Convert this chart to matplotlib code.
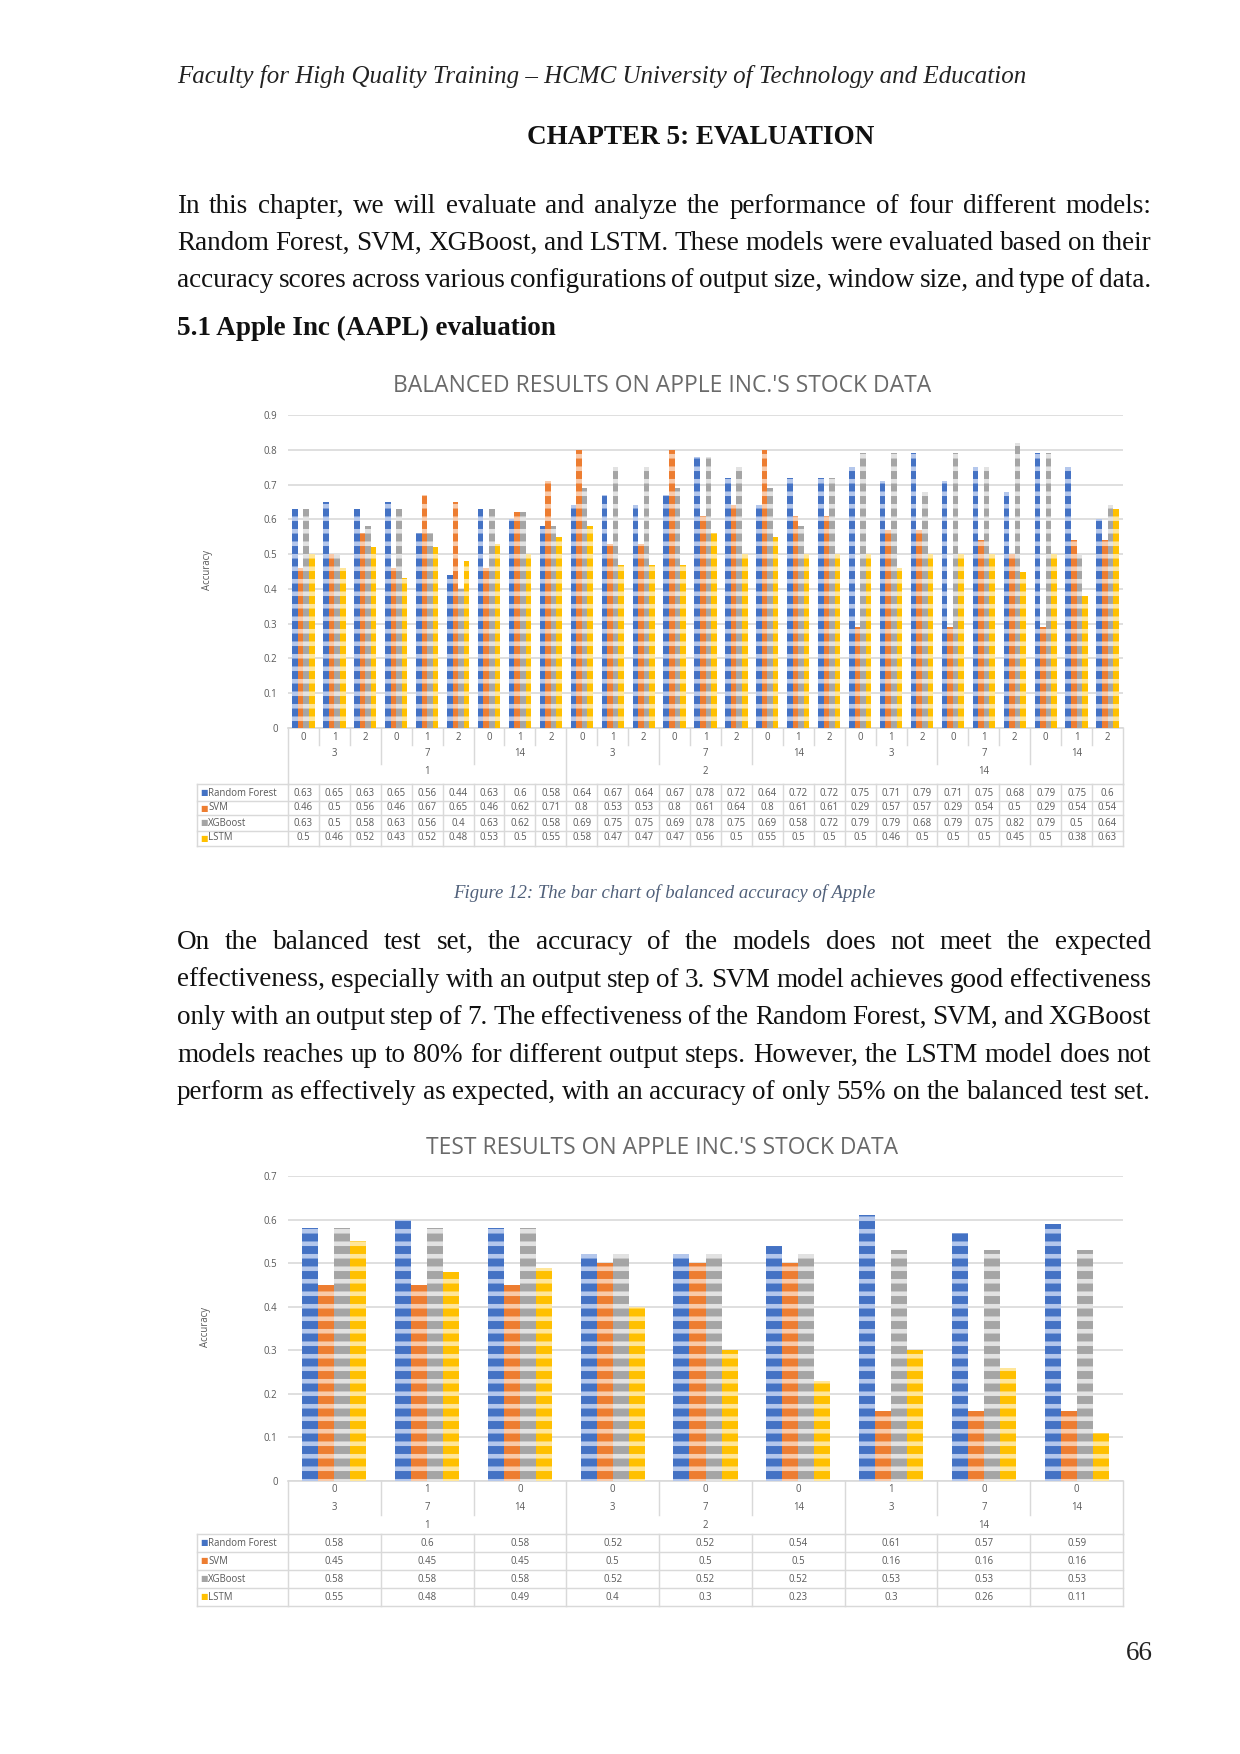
import matplotlib
matplotlib.use("Agg")
import matplotlib.pyplot as plt
import matplotlib.transforms as mtransforms
from matplotlib.lines import Line2D
import numpy as np

W, H, DPI = 1240, 1754, 150

# ---------------- data ----------------
models = ["Random Forest", "SVM", "XGBoost", "LSTM"]

bal_type = ["0", "1", "2"] * 9
bal_window = ["3", "7", "14"] * 3
bal_output = ["1", "2", "14"]
bal_rf = [0.63, 0.65, 0.63, 0.65, 0.56, 0.44, 0.63, 0.6, 0.58, 0.64, 0.67, 0.64, 0.67,
          0.78, 0.72, 0.64, 0.72, 0.72, 0.75, 0.71, 0.79, 0.71, 0.75, 0.68, 0.79, 0.75, 0.6]
bal_svm = [0.46, 0.5, 0.56, 0.46, 0.67, 0.65, 0.46, 0.62, 0.71, 0.8, 0.53, 0.53, 0.8,
           0.61, 0.64, 0.8, 0.61, 0.61, 0.29, 0.57, 0.57, 0.29, 0.54, 0.5, 0.29, 0.54, 0.54]
bal_xgb = [0.63, 0.5, 0.58, 0.63, 0.56, 0.4, 0.63, 0.62, 0.58, 0.69, 0.75, 0.75, 0.69,
           0.78, 0.75, 0.69, 0.58, 0.72, 0.79, 0.79, 0.68, 0.79, 0.75, 0.82, 0.79, 0.5, 0.64]
bal_lstm = [0.5, 0.46, 0.52, 0.43, 0.52, 0.48, 0.53, 0.5, 0.55, 0.58, 0.47, 0.47, 0.47,
            0.56, 0.5, 0.55, 0.5, 0.5, 0.5, 0.46, 0.5, 0.5, 0.5, 0.45, 0.5, 0.38, 0.63]

test_type = ["0", "1", "0", "0", "0", "0", "1", "0", "0"]
test_window = ["3", "7", "14"] * 3
test_output = ["1", "2", "14"]
test_rf = [0.58, 0.6, 0.58, 0.52, 0.52, 0.54, 0.61, 0.57, 0.59]
test_svm = [0.45, 0.45, 0.45, 0.5, 0.5, 0.5, 0.16, 0.16, 0.16]
test_xgb = [0.58, 0.58, 0.58, 0.52, 0.52, 0.52, 0.53, 0.53, 0.53]
test_lstm = [0.55, 0.48, 0.49, 0.4, 0.3, 0.23, 0.3, 0.26, 0.11]

header = "Faculty for High Quality Training \u2013 HCMC University of Technology and Education"
chapter = "CHAPTER 5: EVALUATION"
para1 = [
    "In this chapter, we will evaluate and analyze the performance of four different models:",
    "Random Forest, SVM, XGBoost, and LSTM. These models were evaluated based on their",
    "accuracy scores across various configurations of output size, window size, and type of data.",
]
section = "5.1 Apple Inc (AAPL) evaluation"
title1 = "BALANCED RESULTS ON APPLE INC.'S STOCK DATA"
caption = "Figure 12: The bar chart of balanced accuracy of Apple"
para2 = [
    "On the balanced test set, the accuracy of the models does not meet the expected",
    "effectiveness, especially with an output step of 3. SVM model achieves good effectiveness",
    "only with an output step of 7. The effectiveness of the Random Forest, SVM, and XGBoost",
    "models reaches up to 80% for different output steps. However, the LSTM model does not",
    "perform as effectively as expected, with an accuracy of only 55% on the balanced test set.",
]
title2 = "TEST RESULTS ON APPLE INC.'S STOCK DATA"
page_no = "66"

# ---------------- style ----------------
face = ["#4472C4", "#ED7D31", "#A5A5A5", "#FFC000"]
stripe = ["#B4C7EC", "#F9C9A8", "#E2E2E2", "#FFE699"]
SERIF = "Liberation Serif"
SANS = "Open Sans"
TXT = "#595959"
LINE = "#D9D9D9"
plt.rcParams["hatch.linewidth"] = 2.2

fig = plt.figure(figsize=(W / DPI, H / DPI), dpi=DPI)


def fy(p):
    return 1 - p / H


def fx(p):
    return p / W


LM, RM = 177, 1151

# ---------------- page text ----------------
fig.text(fx(LM), fy(76), header, fontsize=12, family=SERIF, style="italic",
         va="center", ha="left", color="#222222")
fig.text(fx(701), fy(137), chapter, fontsize=13, family=SERIF, weight="bold",
         va="center", ha="center", color="#111111")
fig.text(fx(LM), fy(328), section, fontsize=13, family=SERIF, weight="bold",
         va="center", ha="left", color="#111111")
fig.text(fx(1139), fy(1653), page_no, fontsize=13, family=SERIF,
         va="center", ha="center", color="#222222")
fig.text(fx(664), fy(893), caption, fontsize=9, family=SERIF, style="italic",
         va="center", ha="center", color="#50607A")

renderer = fig.canvas.get_renderer()


def text_width(s, **kw):
    t = fig.text(0, 0, s, **kw)
    w = t.get_window_extent(renderer).width
    t.remove()
    return w


def put_paragraph(lines, ys, x0=LM, x1=RM, base_shift=7):
    kw = dict(fontsize=13, family=SERIF, va="baseline", ha="left", color="#111111")
    space = text_width("a a", **kw) - text_width("aa", **kw)
    for i, (line, y) in enumerate(zip(lines, ys)):
        words = line.split(" ")
        objs = [fig.text(0, fy(y + base_shift), w, **kw) for w in words]
        widths = [o.get_window_extent(renderer).width for o in objs]
        natural = sum(widths) + space * (len(words) - 1)
        last = i == len(lines) - 1
        if (not last or natural > (x1 - x0)) and len(words) > 1:
            gap = (x1 - x0 - sum(widths)) / (len(words) - 1)
        else:
            gap = space
        x = x0
        for o, w in zip(objs, widths):
            o.set_x(fx(x))
            x += w + gap


put_paragraph(para1, [206, 243, 280])
put_paragraph(para2, [942, 980, 1017, 1055, 1092])


# ---------------- charts ----------------
def draw_chart(rect, series, ymax, group_frac, title, title_y, ylabel_xy,
               type_lab, win_lab, out_lab, lv_y, table_top, rows_y, row_edges,
               table_bottom, big, mid, tsize=4.6):
    ax = fig.add_axes(rect)
    n = len(series[0])
    x = np.arange(n)
    bw = group_frac / 4
    for i, vals in enumerate(series):
        ax.bar(x + (i - 1.5) * bw, vals, bw, color=face[i], edgecolor=stripe[i],
               linewidth=0, hatch="--", zorder=3)
    ax.set_xlim(-0.5, n - 0.5)
    ax.set_ylim(0, ymax)
    ticks = np.round(np.arange(0, ymax + 1e-9, 0.1), 1)
    ax.set_yticks(ticks)
    ax.set_yticklabels([f"{t:g}" for t in ticks], fontsize=tsize, family=SANS, color=TXT)
    ax.set_xticks([])
    ax.tick_params(axis="y", length=0, pad=5)
    ax.grid(axis="y", color=LINE, lw=0.8, zorder=0)
    for s in ["top", "right", "left"]:
        ax.spines[s].set_visible(False)
    ax.spines["bottom"].set_color(LINE)
    ax.spines["bottom"].set_linewidth(0.8)

    fig.text(fx(662), fy(title_y), title, fontsize=11, family=SANS, color="#6A6A6A",
             va="center", ha="center")
    fig.text(fx(ylabel_xy[0]), fy(ylabel_xy[1]), "Accuracy", fontsize=tsize, family=SANS,
             color=TXT, rotation=90, va="center", ha="center")

    trans = mtransforms.blended_transform_factory(ax.transData, fig.transFigure)
    axis_bottom = H - rect[1] * H

    def vline(xd, y0, y1):
        ax.add_line(Line2D([xd, xd], [fy(y0), fy(y1)], transform=trans, color=LINE,
                           lw=0.7, clip_on=False))

    def hline(y, xl=197):
        fig.add_artist(Line2D([fx(xl), rect[0] + rect[2]], [fy(y), fy(y)],
                              transform=fig.transFigure, color=LINE, lw=0.7))

    # category labels
    for i in range(n):
        ax.text(i, fy(lv_y[0]), type_lab[i], transform=trans, fontsize=tsize, family=SANS,
                color=TXT, ha="center", va="center")
    per_mid = n // len(win_lab)
    for j, lab in enumerate(win_lab):
        ax.text(j * per_mid + (per_mid - 1) / 2, fy(lv_y[1]), lab, transform=trans,
                fontsize=tsize, family=SANS, color=TXT, ha="center", va="center")
    per_big = n // len(out_lab)
    for j, lab in enumerate(out_lab):
        ax.text(j * per_big + (per_big - 1) / 2, fy(lv_y[2]), lab, transform=trans,
                fontsize=tsize, family=SANS, color=TXT, ha="center", va="center")

    # divider lines of the category area
    for k in range(n + 1):
        b = k - 0.5
        if k % big == 0:
            vline(b, axis_bottom, table_top)
        elif k % mid == 0:
            vline(b, axis_bottom, lv_y[2] - 8 if big != mid else table_top)
        else:
            vline(b, axis_bottom, lv_y[0] + 8 if big != mid else lv_y[1] + 8)
        vline(b, table_top, table_bottom)

    # data table
    for y in [table_top] + row_edges + [table_bottom]:
        hline(y)
    fig.add_artist(Line2D([fx(197), fx(197)], [fy(table_top), fy(table_bottom)],
                          transform=fig.transFigure, color=LINE, lw=0.7))
    for r, (name, vals) in enumerate(zip(models, series)):
        y = rows_y[r]
        fig.text(fx(200), fy(y), "\u25A0", fontsize=tsize - 0.8, color=face[r],
                 va="center", ha="left", family="DejaVu Sans")
        fig.text(fx(208), fy(y), name, fontsize=tsize, family=SANS, color=TXT,
                 va="center", ha="left")
        for i, v in enumerate(vals):
            ax.text(i, fy(y), f"{v:g}", transform=trans, fontsize=tsize, family=SANS,
                    color=TXT, ha="center", va="center")
    return ax


rect1 = [fx(288), fy(728), fx(1123) - fx(288), (728 - 415) / H]
draw_chart(rect1, [bal_rf, bal_svm, bal_xgb, bal_lstm], 0.9, 0.72, title1, 386, (207, 570),
           bal_type, bal_window, bal_output, [737, 754, 772], 784, [793, 808, 823, 838],
           [800.5, 815.5, 830.5], 846, big=9, mid=3)

rect2 = [fx(288), fy(1481), fx(1123) - fx(288), (1481 - 1176) / H]
draw_chart(rect2, [test_rf, test_svm, test_xgb, test_lstm], 0.7, 0.69, title2, 1148, (205, 1327),
           test_type, test_window, test_output, [1490, 1507, 1525], 1534,
           [1543, 1561, 1579, 1597], [1552, 1570, 1588], 1606, big=3, mid=3)

fig.savefig("out.png", dpi=DPI, facecolor="white")
